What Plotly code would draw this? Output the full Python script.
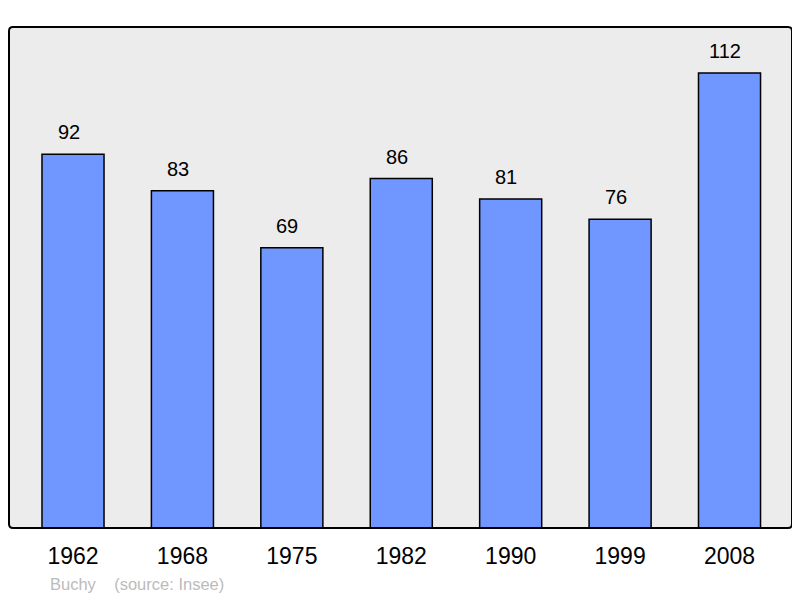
import plotly.graph_objects as go

years = ["1962", "1968", "1975", "1982", "1990", "1999", "2008"]
population = [92, 83, 69, 86, 81, 76, 112]

xs = list(range(len(years)))

W, H = 792, 590
L, T, R, B = 1, 19, 8, 70
pw, ph = W - L - R, H - T - B

fig = go.Figure()
fig.add_trace(go.Bar(
    x=xs, y=population, width=0.567,
    marker=dict(color="#7096ff", line=dict(color="#000000", width=1.5)),
    hoverinfo="skip",
))

for x, v in zip(xs, population):
    fig.add_annotation(x=x, y=v, text=str(v), showarrow=False, yshift=22, xshift=-4.5,
                       font=dict(size=20, color="#000000", family="Liberation Sans"))

fig.add_annotation(xref="paper", yref="paper", x=(48 - 9) / pw, y=-(584 - 528) / ph,
                   xanchor="left", yanchor="middle", showarrow=False,
                   text="Buchy&nbsp;&nbsp;&nbsp;&nbsp;(source: Insee)",
                   font=dict(size=16.5, color="#bbbbbb", family="Liberation Sans"))

rx, ry = 4 / pw, 4 / ph
path = (f"M {rx},0 L {1-rx},0 Q 1,0 1,{ry} L 1,{1-ry} Q 1,1 {1-rx},1 "
        f"L {rx},1 Q 0,1 0,{1-ry} L 0,{ry} Q 0,0 {rx},0 Z")
fig.add_shape(type="path", xref="paper", yref="paper", path=path,
              line=dict(color="#000000", width=2), fillcolor="rgba(0,0,0,0)", layer="above")

fig.update_layout(
    width=W, height=H,
    margin=dict(l=L, r=R, t=T, b=B),
    paper_bgcolor="#ffffff", plot_bgcolor="#ececec",
    showlegend=False,
    font=dict(family="Liberation Sans"),
    xaxis=dict(range=[-0.585, 6.571], tickmode="array", tickvals=xs, ticktext=years,
               showgrid=False, zeroline=False, ticks="", showline=False,
               tickfont=dict(size=23, color="#000000"), ticklabelstandoff=12),
    yaxis=dict(range=[0, 123.3], showgrid=False, zeroline=False, showticklabels=False,
               ticks="", showline=False),
)

fig.write_html("out.html")
